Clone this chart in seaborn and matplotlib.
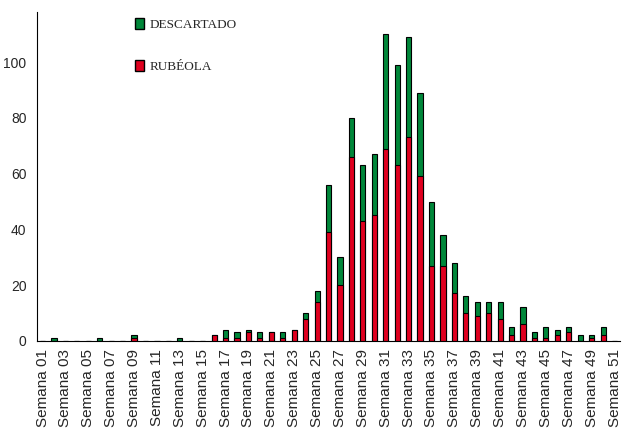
import numpy as np
import pandas as pd
import matplotlib
matplotlib.use("Agg")
import matplotlib.pyplot as plt
from matplotlib.patches import Patch
import seaborn as sns

# semanas epidemiológicas 01..51
semanas = ["Semana %02d" % i for i in range(1, 52)]

# casos confirmados de rubéola por semana
rubeola = [0, 0, 0, 0, 0, 0, 0, 0, 1, 0,
           0, 0, 0, 0, 0, 2, 1, 1, 3, 1,
           3, 1, 4, 8, 14, 39, 20, 66, 43, 45,
           69, 63, 73, 59, 27, 27, 17, 10, 9, 10,
           8, 2, 6, 1, 1, 2, 3, 0, 1, 2,
           0]

# casos descartados por semana
descartado = [0, 1, 0, 0, 0, 1, 0, 0, 1, 0,
              0, 0, 1, 0, 0, 0, 3, 2, 1, 2,
              0, 2, 0, 2, 4, 17, 10, 14, 20, 22,
              41, 36, 36, 30, 23, 11, 11, 6, 5, 4,
              6, 3, 6, 2, 4, 2, 2, 2, 1, 3,
              0]

cor_verde = "#00873a"
cor_vermelho = "#e0001f"

df = pd.DataFrame({"semana": semanas, "rubeola": rubeola, "descartado": descartado})
df["total"] = df["rubeola"] + df["descartado"]

sns.set_style("white")
plt.rcParams["font.family"] = ["Liberation Sans", "DejaVu Sans"]

fig = plt.figure(figsize=(6.24, 4.32), dpi=100)
ax = fig.add_axes([0.059, 0.211, 0.935, 0.761])

# barras empilhadas: total (verde) atrás, rubéola (vermelho) na frente
sns.barplot(data=df, x="semana", y="total", color=cor_verde, width=0.45,
            edgecolor="black", linewidth=0.8, saturation=1, ax=ax)
sns.barplot(data=df, x="semana", y="rubeola", color=cor_vermelho, width=0.45,
            edgecolor="black", linewidth=0.8, saturation=1, ax=ax)

ax.set_xlim(-0.5, len(semanas) - 0.5)
ax.set_ylim(0, 118)
ax.set_yticks(range(0, 101, 20))
ax.set_xlabel("")
ax.set_ylabel("")

pos = np.arange(0, len(semanas), 2)
ax.set_xticks(pos)
ax.set_xticklabels([semanas[i] for i in pos], rotation=90, fontsize=11)
ax.set_xticks(np.arange(-0.5, len(semanas), 1), minor=True)
ax.tick_params(axis="x", which="major", length=0, pad=6)
ax.tick_params(axis="x", which="minor", length=4, width=0.8, color="black", direction="out")
ax.tick_params(axis="y", length=4, width=0.8, color="black", direction="out", labelsize=10)

sns.despine(ax=ax)
ax.spines["left"].set_color("black")
ax.spines["bottom"].set_color("black")
ax.spines["left"].set_linewidth(0.8)
ax.spines["bottom"].set_linewidth(0.8)

handles = [Patch(facecolor=cor_verde, edgecolor="black", label="DESCARTADO"),
           Patch(facecolor=cor_vermelho, edgecolor="black", label="RUBÉOLA")]
ax.legend(handles=handles, loc="upper left", bbox_to_anchor=(0.148, 1.018),
          frameon=False, labelspacing=2.2, handlelength=0.7, handleheight=0.9,
          handletextpad=0.4, prop={"family": "Liberation Serif", "size": 9.5})

fig.savefig("out.png", dpi=100)
